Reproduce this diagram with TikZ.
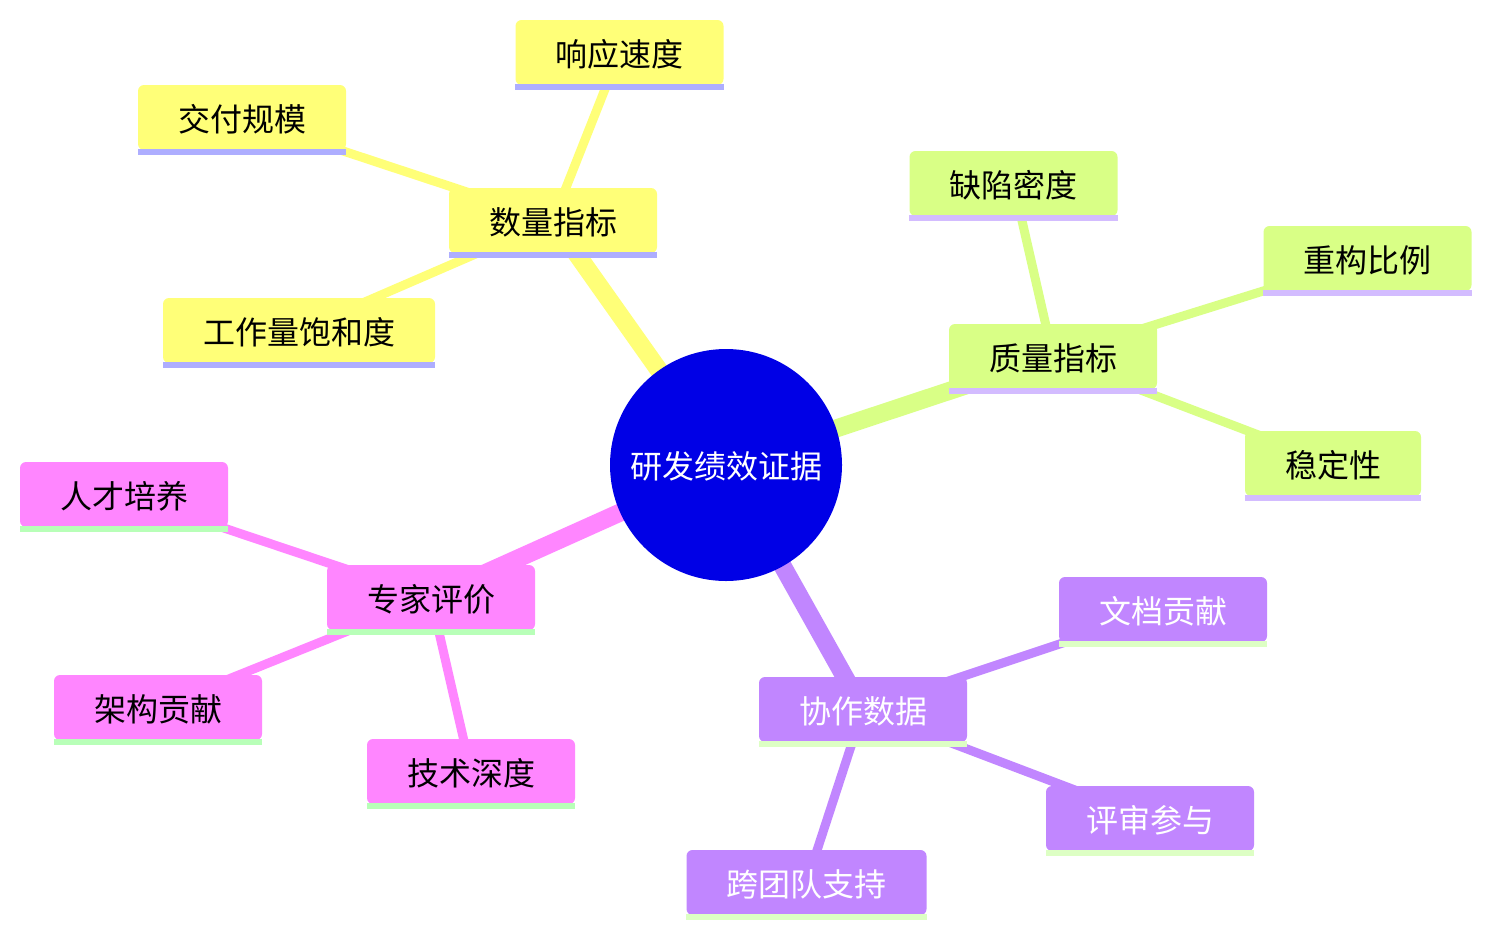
\documentclass[tikz,border=0pt]{standalone}
\usepackage{fontspec}
\newfontfamily\cjk{Noto Sans CJK SC}
\usetikzlibrary{backgrounds}
\definecolor{cY}{HTML}{FFFF78}
\definecolor{cG}{HTML}{D9FF86}
\definecolor{cP}{HTML}{FF86FF}
\definecolor{cV}{HTML}{C186FF}
\definecolor{uY}{HTML}{AEAEFF}
\definecolor{uG}{HTML}{D3BCFF}
\definecolor{uP}{HTML}{B8FFB8}
\definecolor{uV}{HTML}{DDFFC4}
\definecolor{cRoot}{HTML}{0000E6}
\begin{document}
\begin{tikzpicture}[x=1pt,y=-1pt,
  box/.style={rounded corners=6pt, inner xsep=40pt, inner ysep=0pt,
    minimum height=65pt, text height=30pt, text depth=3pt,
    font=\cjk\fontsize{32}{36}\selectfont},
  yb/.style={box, fill=cY, text=black},
  gb/.style={box, fill=cG, text=black},
  pb/.style={box, fill=cP, text=black},
  vb/.style={box, fill=cV, text=white},
  main/.style={line width=18pt},
  sub/.style={line width=9pt}
]
\useasboundingbox (0,0) rectangle (1491,937);

\node[circle, fill=cRoot, minimum size=232pt, inner sep=0pt, text=white,
  font=\cjk\fontsize{32}{36}\selectfont, text height=30pt, text depth=3pt] (root) at (726,465) {研发绩效证据};

% yellow branch
\node[yb] (sl) at (553,220.5) {数量指标};
\node[yb] (xy) at (619.5,52.5) {响应速度};
\node[yb] (jf) at (242,117.5) {交付规模};
\node[yb] (gz) at (299,330.5) {工作量饱和度};
% green branch
\node[gb] (zl) at (1053,356.5) {质量指标};
\node[gb] (qx) at (1013.5,183.5) {缺陷密度};
\node[gb] (cg) at (1367.5,258.5) {重构比例};
\node[gb] (wd) at (1333,463.5) {稳定性};
% pink branch
\node[pb] (zj) at (431,597.5) {专家评价};
\node[pb] (rc) at (124,494.5) {人才培养};
\node[pb] (jg) at (158,707.5) {架构贡献};
\node[pb] (js) at (471,771.5) {技术深度};
% purple branch
\node[vb] (xz) at (863,709.5) {协作数据};
\node[vb] (wdg) at (1163,609.5) {文档贡献};
\node[vb] (ps) at (1150,818.5) {评审参与};
\node[vb] (kt) at (806.5,882.5) {跨团队支持};

% underlines
\foreach \n in {sl,xy,jf,gz}{\fill[uY] ([yshift=1pt]\n.south west) rectangle ([yshift=-5pt]\n.south east);}
\foreach \n in {zl,qx,cg,wd}{\fill[uG] ([yshift=1pt]\n.south west) rectangle ([yshift=-5pt]\n.south east);}
\foreach \n in {zj,rc,jg,js}{\fill[uP] ([yshift=1pt]\n.south west) rectangle ([yshift=-5pt]\n.south east);}
\foreach \n in {xz,wdg,ps,kt}{\fill[uV] ([yshift=1pt]\n.south west) rectangle ([yshift=-5pt]\n.south east);}

\begin{scope}[on background layer]
  \fill[white] (0,0) rectangle (1491,937);
  \draw[main, cY] (root.center) -- (sl.center);
  \draw[main, cG] (root.center) -- (zl.center);
  \draw[main, cP] (root.center) -- (zj.center);
  \draw[main, cV] (root.center) -- (xz.center);
  \draw[sub, cY] (sl.center) -- (xy.center);
  \draw[sub, cY] (sl.center) -- (jf.center);
  \draw[sub, cY] (sl.center) -- (gz.center);
  \draw[sub, cG] (zl.center) -- (qx.center);
  \draw[sub, cG] (zl.center) -- (cg.center);
  \draw[sub, cG] (zl.center) -- (wd.center);
  \draw[sub, cP] (zj.center) -- (rc.center);
  \draw[sub, cP] (zj.center) -- (jg.center);
  \draw[sub, cP] (zj.center) -- (js.center);
  \draw[sub, cV] (xz.center) -- (wdg.center);
  \draw[sub, cV] (xz.center) -- (ps.center);
  \draw[sub, cV] (xz.center) -- (kt.center);
\end{scope}
\end{tikzpicture}
\end{document}
